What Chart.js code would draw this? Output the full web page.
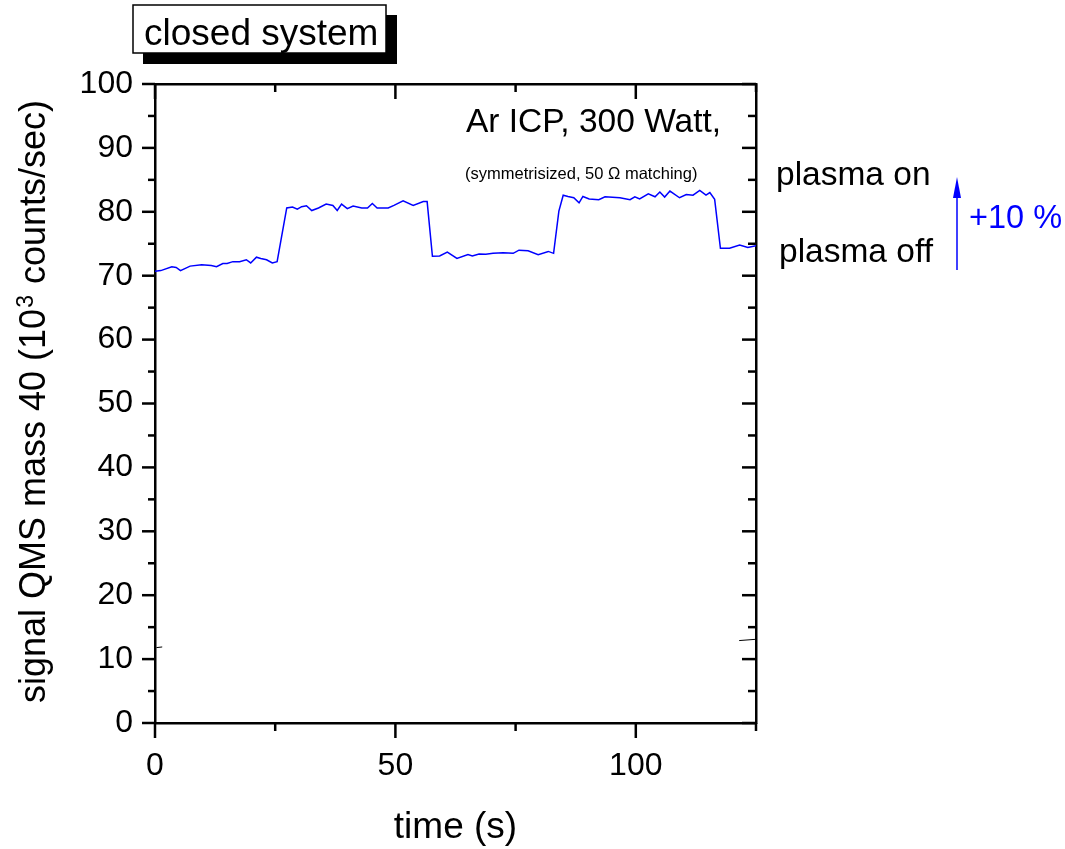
<!DOCTYPE html>
<html>
<head>
<meta charset="utf-8">
<title>closed system - QMS mass 40</title>
<script src="https://cdn.jsdelivr.net/npm/chart.js@4.4.0/dist/chart.umd.min.js"></script>
<style>
  body { margin: 0; background: #fff; }
  #wrap { width: 1065px; height: 849px; }
</style>
</head>
<body>
<div id="wrap"><canvas id="chart" width="1065" height="849"></canvas></div>
<script>
// QMS signal, mass 40 (time in s, signal in 10^3 counts/sec)
var timeSec = [0, 1.2, 3.5, 4.4, 5.3, 7.3, 9.7, 11.7, 12.8, 14.1,
    15, 16.2, 17.6, 19, 19.9, 21.1, 22, 23.2, 24.4, 25.4,
    27.4, 28.6, 29.6, 30.5, 31.5, 32.6, 34, 35.6, 37, 37.9,
    38.8, 40, 41.2, 43, 44.2, 45.2, 46.2, 48.5, 49.7, 51.6,
    53.7, 55.8, 56.6, 57.7, 59.2, 60.8, 62.8, 65.1, 66, 67.4,
    68.8, 70.3, 72.4, 74.5, 75.7, 77.6, 79.7, 81.8, 82.9, 84,
    84.9, 85.9, 87.1, 88.2, 89, 90.3, 92.3, 93.6, 96.7, 98.8,
    99.8, 100.8, 102.6, 104, 105, 106, 107.1, 109.1, 110.5, 111.9,
    113.3, 114.6, 115.4, 116.4, 117.6, 119.5, 121.6, 123.3, 125];
var signal = [70.7, 70.8, 71.4, 71.3, 70.8, 71.5, 71.7, 71.6, 71.4, 71.9,
    71.9, 72.2, 72.2, 72.5, 72.0, 72.9, 72.7, 72.5, 72.0, 72.2,
    80.6, 80.75, 80.4, 80.8, 80.95, 80.2, 80.6, 81.2, 81.0, 80.2,
    81.2, 80.5, 80.9, 80.6, 80.6, 81.3, 80.6, 80.6, 81.0, 81.7,
    81.0, 81.6, 81.6, 73.05, 73.1, 73.7, 72.7, 73.3, 73.1, 73.4,
    73.35, 73.5, 73.6, 73.5, 74.0, 73.9, 73.3, 73.8, 73.5, 80.1,
    82.6, 82.4, 82.2, 81.4, 82.4, 82.0, 81.9, 82.35, 82.2, 81.9,
    82.35, 82.0, 82.8, 82.35, 83.1, 82.3, 83.25, 82.2, 82.7, 82.6,
    83.35, 82.6, 83.0, 81.95, 74.3, 74.3, 74.8, 74.4, 74.7];

// two little stray bits of line near the bottom
var strayLeftT = [0.3, 1.5];
var strayLeftV = [11.8, 11.9];
var strayRightT = [121.5, 125];
var strayRightV = [12.9, 13.1];

var xTickLabels = [0, 50, 100];
var xMinorTicks = [25, 75, 125];
var yTickLabels = [0, 10, 20, 30, 40, 50, 60, 70, 80, 90, 100];
var yMinorTicks = [5, 15, 25, 35, 45, 55, 65, 75, 85, 95];

var FONT = "'Liberation Sans', Arial, sans-serif";
var BLUE = '#0000ff';

function pairs(t, v) {
    return t.map(function (x, i) { return {x: x, y: v[i]}; });
}

Chart.defaults.font.family = FONT;
Chart.defaults.color = '#000';

var extras = {
    id: 'extras',
    afterDraw: function (chart) {
        var ctx = chart.ctx, a = chart.chartArea;
        var xs = chart.scales.x, ys = chart.scales.y;
        ctx.save();

        // tick marks: outward on left/bottom, inward on top/right
        ctx.strokeStyle = '#000';
        ctx.lineWidth = 2.5;
        function seg(x1, y1, x2, y2) {
            ctx.beginPath(); ctx.moveTo(x1, y1); ctx.lineTo(x2, y2); ctx.stroke();
        }
        xTickLabels.forEach(function (v) {
            var p = xs.getPixelForValue(v);
            seg(p, a.bottom, p, a.bottom + 15);
            seg(p, a.top, p, a.top + 15);
        });
        xMinorTicks.forEach(function (v) {
            var p = xs.getPixelForValue(v);
            seg(p, a.bottom, p, a.bottom + 8);
            seg(p, a.top, p, a.top + 8);
        });
        yTickLabels.forEach(function (v) {
            var p = ys.getPixelForValue(v);
            seg(a.left - 13, p, a.left, p);
            seg(a.right - 14, p, a.right, p);
        });
        yMinorTicks.forEach(function (v) {
            var p = ys.getPixelForValue(v);
            seg(a.left - 7, p, a.left, p);
            seg(a.right - 8, p, a.right, p);
        });

        // "closed system" box with drop shadow
        ctx.fillStyle = '#000';
        ctx.fillRect(143, 15, 254, 49);
        ctx.fillStyle = '#fff';
        ctx.fillRect(133, 5, 253, 48);
        ctx.lineWidth = 1.5;
        ctx.strokeRect(133, 5, 253, 48);

        ctx.fillStyle = '#000';
        ctx.textAlign = 'left';
        ctx.textBaseline = 'alphabetic';
        ctx.font = '37px ' + FONT;
        ctx.fillText('closed system', 144, 45);

        ctx.font = '33.5px ' + FONT;
        ctx.fillText('Ar ICP, 300 Watt,', 466, 132);
        ctx.font = '16.5px ' + FONT;
        ctx.fillText('(symmetrisized, 50 \u03A9 matching)', 465, 179);

        ctx.font = '33.5px ' + FONT;
        ctx.fillText('plasma on', 776, 185);
        ctx.fillText('plasma off', 779, 262);

        // +10 % arrow
        ctx.strokeStyle = BLUE;
        ctx.fillStyle = BLUE;
        ctx.lineWidth = 1.5;
        seg(957, 270, 957, 192);
        ctx.beginPath();
        ctx.moveTo(957, 177);
        ctx.lineTo(953, 198);
        ctx.lineTo(961, 198);
        ctx.closePath();
        ctx.fill();
        ctx.font = '32.5px ' + FONT;
        ctx.fillText('+10 %', 969, 228);

        // axis titles
        ctx.fillStyle = '#000';
        ctx.font = '37px ' + FONT;
        ctx.textAlign = 'center';
        ctx.fillText('time (s)', (a.left + a.right) / 2, 838);

        ctx.translate(45, (a.top + a.bottom) / 2 - 1);
        ctx.rotate(-Math.PI / 2);
        ctx.textAlign = 'left';
        var p1 = 'signal QMS mass 40 (10', p2 = '3', p3 = ' counts/sec)';
        ctx.font = '36px ' + FONT;
        var w1 = ctx.measureText(p1).width, w3 = ctx.measureText(p3).width;
        ctx.font = '23px ' + FONT;
        var w2 = ctx.measureText(p2).width;
        var s = -(w1 + w2 + w3) / 2;
        ctx.font = '36px ' + FONT;
        ctx.fillText(p1, s, 0);
        ctx.font = '23px ' + FONT;
        ctx.fillText(p2, s + w1 + 1, -12);
        ctx.font = '36px ' + FONT;
        ctx.fillText(p3, s + w1 + w2 + 2, 0);

        ctx.restore();
    }
};

var border = {display: true, color: '#000', width: 2.5};

new Chart(document.getElementById('chart'), {
    type: 'line',
    data: {
        datasets: [
            {data: pairs(timeSec, signal), borderColor: BLUE, borderWidth: 1.5,
             pointRadius: 0, tension: 0, fill: false},
            {data: pairs(strayLeftT, strayLeftV), borderColor: '#000', borderWidth: 1,
             pointRadius: 0, fill: false},
            {data: pairs(strayRightT, strayRightV), borderColor: '#000', borderWidth: 1,
             pointRadius: 0, fill: false}
        ]
    },
    options: {
        responsive: false,
        animation: false,
        layout: {padding: 0},
        plugins: {legend: {display: false}, tooltip: {enabled: false}},
        scales: {
            x: {
                type: 'linear', position: 'bottom', min: 0, max: 125,
                grid: {display: true, drawOnChartArea: false, drawTicks: false},
                border: border,
                ticks: {stepSize: 50, includeBounds: false, maxRotation: 0,
                        padding: 24, font: {size: 32}, color: '#000'},
                afterFit: function (s) { s.height = 126; }
            },
            x2: {
                type: 'linear', position: 'top', min: 0, max: 125,
                grid: {display: true, drawOnChartArea: false, drawTicks: false},
                border: border,
                ticks: {display: false},
                afterFit: function (s) { s.height = 84; }
            },
            y: {
                type: 'linear', position: 'left', min: 0, max: 100,
                grid: {display: true, drawOnChartArea: false, drawTicks: false},
                border: border,
                ticks: {stepSize: 10, padding: 22, font: {size: 32}, color: '#000'},
                afterFit: function (s) { s.width = 155; }
            },
            y2: {
                type: 'linear', position: 'right', min: 0, max: 100,
                grid: {display: true, drawOnChartArea: false, drawTicks: false},
                border: border,
                ticks: {display: false},
                afterFit: function (s) { s.width = 309; }
            }
        }
    },
    plugins: [extras]
});
</script>
</body>
</html>
